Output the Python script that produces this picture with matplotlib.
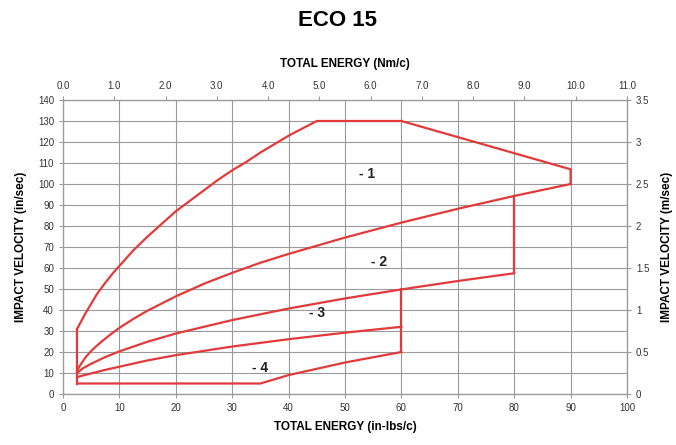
import matplotlib
matplotlib.use("Agg")
import matplotlib.pyplot as plt
import numpy as np

plt.rcParams["font.family"] = ["Liberation Sans Narrow", "Liberation Sans", "DejaVu Sans"]

# boundary lines, x = total energy (in-lbs/c), y = impact velocity (in/sec)
left_x = [2.5, 2.5]
left_y = [5, 31]

upper_x = [2.5, 3, 4, 5, 6, 7.5, 9, 10, 12.5, 15, 17.5, 20, 22.5, 25, 27.5, 30,
           32.5, 35, 37.5, 40, 42.5, 45, 60, 90, 90]
upper_y = [31, 33.5, 38.5, 43, 47.5, 53, 58, 61, 68.5, 75, 81, 87, 92, 97, 102, 106.5,
           110.5, 115, 119, 123, 126.5, 130, 130, 107, 100]

curve2_x = [2.5, 3, 4, 5, 6, 7, 8.5, 10, 12.5, 15, 20, 25, 30, 35, 40, 50, 60, 70, 80, 90]
curve2_y = [11, 13.5, 17.5, 20.5, 23, 25.3, 28.5, 31.5, 35.8, 39.7, 46.5, 52.5, 57.7, 62.5,
            66.7, 74.5, 81.6, 88.2, 94.3, 100]

edge2_x = [80, 80]
edge2_y = [94.3, 57.5]

curve3_x = [2.5, 3.5, 5, 7.5, 10, 15, 20, 30, 40, 50, 60, 70, 80]
curve3_y = [10, 12.2, 14.4, 17.6, 20.3, 24.9, 28.8, 35.2, 40.7, 45.5, 49.8, 53.8, 57.5]

edge3_x = [60, 60]
edge3_y = [49.8, 20]

curve4_x = [2.5, 3.5, 5, 7.5, 10, 15, 20, 30, 40, 50, 60]
curve4_y = [8, 8.8, 9.8, 11.5, 13, 16, 18.5, 22.6, 26.1, 29.2, 32]

bottom_x = [2.5, 35, 40, 50, 60]
bottom_y = [5, 5, 9, 15, 20]

zone_labels = ["- 1", "- 2", "- 3", "- 4"]
zone_x = [54, 56, 45, 35]
zone_y = [105, 63, 38.5, 12.5]

red = "#e23a3a"
grid_c = "#9a9a9a"

fig = plt.figure(figsize=(6.76, 4.45), dpi=100)
ax = fig.add_axes([63 / 676, 51 / 445, 564 / 676, 294 / 445])

lines = [(left_x, left_y), (upper_x, upper_y), (curve2_x, curve2_y), (edge2_x, edge2_y),
         (curve3_x, curve3_y), (edge3_x, edge3_y), (curve4_x, curve4_y), (bottom_x, bottom_y)]
for xs, ys in lines:
    ax.plot(xs, ys, color=red, lw=1.6, solid_joinstyle="miter", zorder=3)

for t, x, y in zip(zone_labels, zone_x, zone_y):
    ax.text(x, y, t, ha="center", va="center", fontsize=10, fontweight="bold", color="#222222")

ax.set_xlim(0, 100)
ax.set_ylim(0, 140)
ax.set_xticks(np.arange(0, 101, 10))
ax.set_yticks(np.arange(0, 141, 10))
ax.grid(True, color=grid_c, lw=0.8)
ax.tick_params(labelsize=7, length=3, color=grid_c, labelcolor="#333333")
for s in ax.spines.values():
    s.set_color(grid_c)
    s.set_linewidth(0.8)
ax.set_xlabel("TOTAL ENERGY (in-lbs/c)", fontsize=8.5, fontweight="bold", labelpad=6)
ax.set_ylabel("IMPACT VELOCITY (in/sec)", fontsize=8.5, fontweight="bold", labelpad=8)

top = ax.twiny()
top.set_xlim(0, 11)
top.set_xticks(np.arange(0, 11.1, 1))
top.set_xticklabels([f"{v:.1f}" for v in np.arange(0, 11.1, 1)])
top.tick_params(labelsize=7, length=3, color=grid_c, labelcolor="#333333")
top.set_xlabel("TOTAL ENERGY (Nm/c)", fontsize=8.5, fontweight="bold", labelpad=10)

right = ax.twinx()
right.set_ylim(0, 3.5)
right.set_yticks(np.arange(0, 3.51, 0.5))
right.set_yticklabels(["0", "0.5", "1", "1.5", "2", "2.5", "3", "3.5"])
right.tick_params(labelsize=7, length=3, color=grid_c, labelcolor="#333333")
right.set_ylabel("IMPACT VELOCITY (m/sec)", fontsize=8.5, fontweight="bold", labelpad=8)
for a in (top, right):
    for s in a.spines.values():
        s.set_color(grid_c)
        s.set_linewidth(0.8)

fig.text(0.5, 1 - 20 / 445, "ECO 15", ha="center", va="center", fontsize=16, fontweight="bold")

fig.savefig("out.png", dpi=100)
